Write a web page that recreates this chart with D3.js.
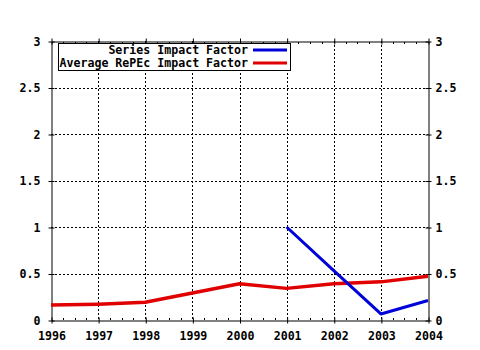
<!DOCTYPE html>
<html>
<head>
<meta charset="utf-8">
<script src="https://cdn.jsdelivr.net/npm/d3@7"></script>
<style>
  html, body { margin: 0; padding: 0; background: #fff; }
  svg text { font-family: "DejaVu Sans Mono", "Liberation Mono", monospace; font-weight: bold; font-size: 11.6px; fill: #000; }
</style>
</head>
<body>
<svg id="chart" width="480" height="350"></svg>
<script>
// Impact factor series by year
const years = [1996, 1997, 1998, 1999, 2000, 2001, 2002, 2003, 2004];
const seriesYears = [2001, 2002, 2003, 2004];
const seriesImpact = [1.0, 0.53, 0.065, 0.21];
const avgRepec = [0.16, 0.17, 0.19, 0.29, 0.39, 0.34, 0.39, 0.41, 0.47];
const yTicks = [0, 0.5, 1, 1.5, 2, 2.5, 3];
const yTickLabels = ["0", "0.5", "1", "1.5", "2", "2.5", "3"];
const legendLabels = ["Series Impact Factor", "Average RePEc Impact Factor"];
const legendColors = ["#0000d8", "#e00000"];

const svg = d3.select("#chart");
const plotL = 51, plotR = 428, plotT = 41, plotB = 320;

const x = d3.scaleLinear().domain([1996, 2004]).range([plotL, plotR]);
const y = d3.scaleLinear().domain([0, 3]).range([plotB, plotT]);

// dotted grid
const grid = svg.append("g").attr("stroke", "#000").attr("stroke-width", 1).attr("stroke-dasharray", "2,2");
grid.selectAll("line.v").data(years.slice(1, -1)).join("line").attr("class", "v")
  .attr("x1", d => Math.round(x(d)) + 0.5).attr("x2", d => Math.round(x(d)) + 0.5)
  .attr("y1", plotT).attr("y2", plotB);
grid.selectAll("line.h").data(yTicks.slice(1, -1)).join("line").attr("class", "h")
  .attr("y1", d => Math.round(y(d)) + 0.5).attr("y2", d => Math.round(y(d)) + 0.5)
  .attr("x1", plotL).attr("x2", plotR);

// quarter-year minor ticks along top and bottom, pointing inward
const minor = d3.range(1996, 2004.01, 0.25).filter(v => v % 1 !== 0);
const minorG = svg.append("g").attr("stroke", "#000").attr("stroke-width", 1);
minorG.selectAll("line.mb").data(minor).join("line").attr("class", "mb")
  .attr("x1", d => Math.round(x(d)) + 0.5).attr("x2", d => Math.round(x(d)) + 0.5)
  .attr("y1", plotB).attr("y2", plotB - 2);
minorG.selectAll("line.mt").data(minor).join("line").attr("class", "mt")
  .attr("x1", d => Math.round(x(d)) + 0.5).attr("x2", d => Math.round(x(d)) + 0.5)
  .attr("y1", plotT + 1).attr("y2", plotT + 3);

// axes on all four sides
const fmt = d => yTickLabels[yTicks.indexOf(d)];
const axL = svg.append("g").attr("transform", `translate(${plotL + 0.5},0.5)`)
  .call(d3.axisLeft(y).tickValues(yTicks).tickFormat(fmt).tickSizeInner(3).tickSizeOuter(0).tickPadding(8));
const axR = svg.append("g").attr("transform", `translate(${plotR + 0.5},0.5)`)
  .call(d3.axisRight(y).tickValues(yTicks).tickFormat(fmt).tickSizeInner(3).tickSizeOuter(0).tickPadding(2));
const axB = svg.append("g").attr("transform", `translate(0.5,${plotB + 0.5})`)
  .call(d3.axisBottom(x).tickValues(years).tickFormat(d3.format("d")).tickSizeInner(3).tickSizeOuter(0).tickPadding(8));
const axT = svg.append("g").attr("transform", `translate(0.5,${plotT + 0.5})`)
  .call(d3.axisTop(x).tickValues(years).tickFormat("").tickSizeInner(3).tickSizeOuter(0));
[axL, axR, axB, axT].forEach(a => {
  a.attr("font-family", null).attr("font-size", null);
  a.selectAll("path.domain").attr("stroke", "#000");
  a.selectAll(".tick line").attr("stroke", "#000");
});
// major ticks cross the frame
axL.selectAll(".tick line").attr("x1", 3);
axR.selectAll(".tick line").attr("x1", -3);
axB.selectAll(".tick line").attr("y1", -3);
axT.selectAll(".tick line").attr("y1", 3);
axR.selectAll("text").attr("dx", 2);

// data lines
const line = d3.line().x(d => x(d[0])).y(d => y(d[1]));
svg.append("path")
  .datum(years.map((yr, i) => [yr, avgRepec[i]]))
  .attr("d", line).attr("fill", "none").attr("stroke", legendColors[1])
  .attr("stroke-width", 3.5).attr("stroke-linejoin", "round");
svg.append("path")
  .datum(seriesYears.map((yr, i) => [yr, seriesImpact[i]]))
  .attr("d", line).attr("fill", "none").attr("stroke", legendColors[0])
  .attr("stroke-width", 3).attr("stroke-linejoin", "round");

// legend
const lg = svg.append("g");
lg.append("rect").attr("x", 58.5).attr("y", 43.5).attr("width", 232).attr("height", 27)
  .attr("fill", "#fff").attr("stroke", "#000");
legendLabels.forEach((t, i) => {
  const cy = 50 + i * 13;
  lg.append("text").attr("x", 248).attr("y", cy + 4).attr("text-anchor", "end").text(t);
  lg.append("line").attr("x1", 253).attr("x2", 287).attr("y1", cy).attr("y2", cy)
    .attr("stroke", legendColors[i]).attr("stroke-width", 3);
});
</script>
</body>
</html>
